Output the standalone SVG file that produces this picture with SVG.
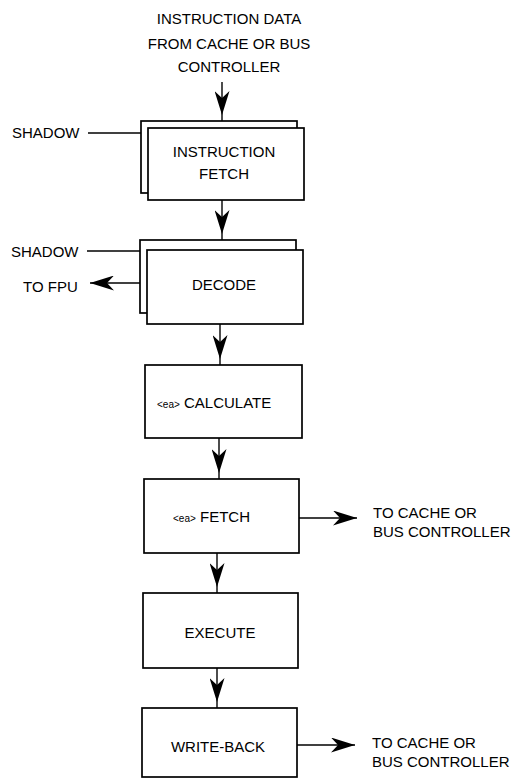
<svg xmlns="http://www.w3.org/2000/svg" width="520" height="780" viewBox="0 0 520 780">
<style>
text{font-family:"Liberation Sans",Arial,sans-serif;font-size:15px;fill:#000}
.c{text-anchor:middle}
.sm{font-size:10px}
.box{fill:#fff;stroke:#000;stroke-width:1.7}
line{stroke:#000;stroke-width:1.4}
</style>
<defs>
<marker id="ah" viewBox="0 0 24 15" markerWidth="24" markerHeight="15" refX="24" refY="7.5" orient="auto" markerUnits="userSpaceOnUse">
<path d="M0,0 L24,7.5 L0,15 L7,7.5 Z" fill="#000"/>
</marker>
<marker id="ahd" viewBox="0 0 30 15" markerWidth="30" markerHeight="15" refX="30" refY="7.5" orient="auto" markerUnits="userSpaceOnUse">
<path d="M0,0 L24,7.5 L0,15 L7,7.5 Z" fill="#000"/>
</marker>
</defs>
<rect width="520" height="780" fill="#fff"/>
<g id="input-label">
<text class="c" x="229" y="24">INSTRUCTION DATA</text>
<text class="c" x="229" y="49">FROM CACHE OR BUS</text>
<text class="c" x="229" y="72">CONTROLLER</text>
</g>
<g id="instruction-fetch">
<rect class="box" x="141" y="121" width="156" height="72"/>
<rect class="box" x="148" y="128" width="156" height="72"/>
<text class="c" x="224" y="157">INSTRUCTION</text>
<text class="c" x="224" y="179">FETCH</text>
</g>
<g id="shadow1"><text x="12" y="138">SHADOW</text></g>
<g id="decode">
<rect class="box" x="140" y="240" width="156" height="73"/>
<rect class="box" x="147" y="250" width="156" height="74"/>
<text class="c" x="224" y="290">DECODE</text>
</g>
<g id="shadow2"><text x="11" y="257">SHADOW</text></g>
<g id="to-fpu"><text x="23" y="292">TO FPU</text></g>
<g id="ea-calculate">
<rect class="box" x="145" y="365" width="157" height="73"/>
<text x="157" y="408"><tspan class="sm">&lt;ea&gt;</tspan> CALCULATE</text>
</g>
<g id="ea-fetch">
<rect class="box" x="144" y="479" width="155" height="74"/>
<text x="173" y="522"><tspan class="sm">&lt;ea&gt;</tspan> FETCH</text>
</g>
<g id="out1">
<text x="373" y="518">TO CACHE OR</text>
<text x="373" y="537">BUS CONTROLLER</text>
</g>
<g id="execute">
<rect class="box" x="143" y="593" width="155" height="75"/>
<text class="c" x="220" y="638">EXECUTE</text>
</g>
<g id="write-back">
<rect class="box" x="142" y="708" width="155" height="69"/>
<text class="c" x="218" y="752">WRITE-BACK</text>
</g>
<g id="out2">
<text x="372" y="748">TO CACHE OR</text>
<text x="372" y="767">BUS CONTROLLER</text>
</g>
<g id="connectors">
<line x1="222" y1="82" x2="222" y2="121" marker-end="url(#ahd)"/>
<line x1="88" y1="133" x2="141" y2="133"/>
<line x1="222" y1="200" x2="222" y2="240" marker-end="url(#ahd)"/>
<line x1="87" y1="251" x2="140" y2="251"/>
<line x1="140" y1="283" x2="90" y2="283" marker-end="url(#ah)"/>
<line x1="220" y1="324" x2="220" y2="365" marker-end="url(#ahd)"/>
<line x1="219" y1="438" x2="219" y2="479" marker-end="url(#ahd)"/>
<line x1="299" y1="518" x2="357" y2="518" marker-end="url(#ah)"/>
<line x1="217" y1="553" x2="217" y2="593" marker-end="url(#ahd)"/>
<line x1="217" y1="668" x2="217" y2="708" marker-end="url(#ahd)"/>
<line x1="297" y1="745" x2="355" y2="745" marker-end="url(#ah)"/>
</g>
</svg>
